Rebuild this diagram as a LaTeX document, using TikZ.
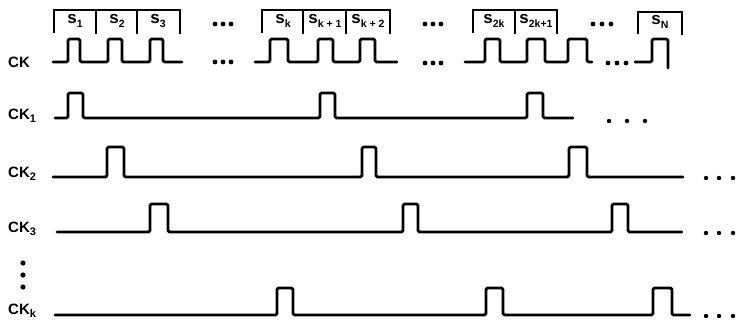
\documentclass[tikz,border=0pt]{standalone}
\usepackage{fontspec}
\setmainfont{Liberation Sans}
\newcommand{\subt}[1]{\raisebox{-0.4ex}{\fontsize{11}{11}\selectfont #1}}
\newcommand{\ssub}[1]{\raisebox{-0.45ex}{\fontsize{10.5}{11}\selectfont #1}}
\newcommand{\wv}[5]{% low, high, start, pulse list a/b, end
  \draw[wave] (#3,#1) foreach \a/\b in {#4} { -- (\a,#1) -- (\a,#2) -- (\b,#2) -- (\b,#1) } -- (#5,#1);}
\tikzset{
  wave/.style={line width=2.9pt, rounded corners=1.5pt, line cap=round, line join=round},
  brk/.style={line width=2.3pt, line cap=butt},
  lbl/.style={anchor=west, inner sep=0pt, font=\bfseries\fontsize{15}{16}\selectfont},
  slbl/.style={inner sep=0pt, font=\bfseries\fontsize{17}{18}\selectfont},
  dotty/.style={fill=black},
}
\begin{document}
\begin{tikzpicture}[x=1pt,y=-1pt]
\useasboundingbox (0,0) rectangle (738,324);
% labels
\node[lbl] (ck) at (8,62) {CK};
\node[lbl] (ck1) at (8,116) {CK\subt{1}};
\node[lbl] (ck2) at (8,174) {CK\subt{2}};
\node[lbl] (ck3) at (8,229) {CK\subt{3}};
\node[lbl] (ckk) at (8,311) {CK\subt{k}};
% brackets
\draw[brk] (54,33) |- (180,10) -- (180,34);
\draw[brk] (96,10) -- (96,34) (137,10) -- (137,34);
\draw[brk] (262,33) |- (390,10) -- (390,34);
\draw[brk] (303,10) -- (303,34) (346,10) -- (346,34);
\draw[brk] (473,33) |- (557,10) -- (557,34);
\draw[brk] (515,10) -- (515,34);
\draw[brk] (638,34) |- (682,12) -- (682,35);
% slot labels
\node[slbl] (s1) at (75,21) {s\ssub{1}};
\node[slbl] (s2) at (117,21) {s\ssub{2}};
\node[slbl] (s3) at (158,21) {s\ssub{3}};
\node[slbl] (sk) at (283,21) {s\ssub{k}};
\node[slbl] (sk1) at (325,21) {s\ssub{k + 1}};
\node[slbl] (sk2) at (368,21) {s\ssub{k + 2}};
\node[slbl] (s2k) at (494,21) {s\ssub{2k}};
\node[slbl] (s2k1) at (536,21) {s\ssub{2k+1}};
\node[slbl] (sN) at (660,22) {s\ssub{N}};
% CK waveform
\wv{62}{39}{53}{68/80,108/122,150/163}{182}
\wv{62}{39}{255}{270/288,318/333,360/375}{397}
\wv{62}{39}{465}{485/500,527/545,568/587}{592}
\draw[wave] (635,62) -- (652,62) -- (652,39) -- (668,39) -- (668,68);
% CK1..CKk
\wv{118}{93}{55}{68/83,320/335,527/543}{573}
\wv{177}{147}{53}{107/124,362/376,569/587}{683}
\wv{232}{204}{57}{150/168,403/418,612/628}{682}
\wv{315}{288}{55}{277/293,486/503,653/672}{690}
% dots
\foreach \x in {215,223,231} {\fill[dotty] (\x,24) circle (2.4); \fill[dotty] (\x,62) circle (2.4);}
\foreach \x in {425,433,441} {\fill[dotty] (\x,24) circle (2.4); \fill[dotty] (\x,63) circle (2.4);}
\foreach \x in {593,602,611} {\fill[dotty] (\x,24) circle (2.4);}
\foreach \x in {608,617,626} {\fill[dotty] (\x,63) circle (2.4);}
\foreach \x in {609,627,645} {\fill[dotty] (\x,121) circle (2.2);}
\foreach \x in {706,719,733} {\fill[dotty] (\x,178) circle (2.2); \fill[dotty] (\x,233) circle (2.2); \fill[dotty] (\x,316) circle (2.2);}
\foreach \y in {263,275,287} {\fill[dotty] (23,\y) circle (2.6);}
\end{tikzpicture}
\end{document}
